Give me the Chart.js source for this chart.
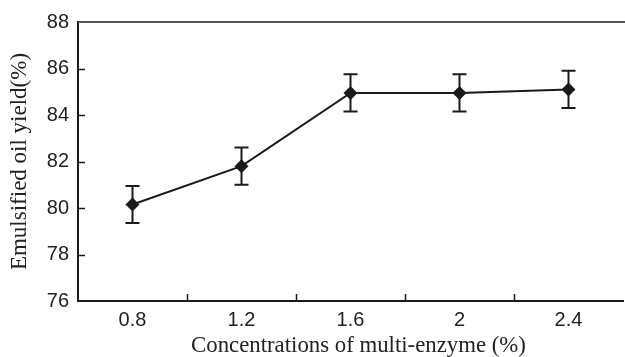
<!DOCTYPE html>
<html>
<head>
<meta charset="utf-8">
<script src="https://cdn.jsdelivr.net/npm/chart.js@4"></script>
<style>
  html, body { margin: 0; padding: 0; background: #fff; overflow: hidden; }
  #wrap { width: 625px; height: 357px; overflow: hidden; }
  canvas { display: block; }
</style>
</head>
<body>
<div id="wrap"><canvas id="c" width="630" height="357"></canvas></div>
<script>
const categories = ['0.8', '1.2', '1.6', '2', '2.4'];
const yieldValues = [80.15, 81.8, 84.95, 84.95, 85.1];
const errorValues = [0.8, 0.8, 0.8, 0.8, 0.8];
const yMin = 76, yMax = 88, yStep = 2;
const xTitle = 'Concentrations of multi-enzyme (%)';
const yTitle = 'Emulsified oil yield(%)';

const INK = '#1a1a1a';

const decorPlugin = {
  id: 'decor',
  beforeDatasetsDraw(chart) {
    const ctx = chart.ctx;
    const x = chart.scales.x, y = chart.scales.y;
    const area = chart.chartArea;
    ctx.save();
    // top frame line
    ctx.strokeStyle = '#555';
    ctx.lineWidth = 2;
    ctx.beginPath();
    ctx.moveTo(area.left, area.top);
    ctx.lineTo(area.right + 5, area.top);
    ctx.stroke();
    // inward y ticks
    ctx.strokeStyle = INK;
    ctx.lineWidth = 1.5;
    y.ticks.forEach(t => {
      if (t.value === yMin || t.value === yMax) return;
      const py = Math.round(y.getPixelForValue(t.value)) + 0.5;
      ctx.beginPath();
      ctx.moveTo(area.left, py);
      ctx.lineTo(area.left + 7, py);
      ctx.stroke();
    });
    // inward x ticks at category boundaries
    for (let i = 0; i < categories.length - 1; i++) {
      const px = Math.round((x.getPixelForValue(i) + x.getPixelForValue(i + 1)) / 2) + 0.5;
      ctx.beginPath();
      ctx.moveTo(px, area.bottom);
      ctx.lineTo(px, area.bottom - 7);
      ctx.stroke();
    }
    // error bars
    ctx.lineWidth = 2;
    ctx.strokeStyle = INK;
    yieldValues.forEach((v, i) => {
      const px = x.getPixelForValue(i);
      const top = y.getPixelForValue(v + errorValues[i]);
      const bot = y.getPixelForValue(v - errorValues[i]);
      const cap = 7;
      ctx.beginPath();
      ctx.moveTo(px, top); ctx.lineTo(px, bot);
      ctx.moveTo(px - cap, top); ctx.lineTo(px + cap, top);
      ctx.moveTo(px - cap, bot); ctx.lineTo(px + cap, bot);
      ctx.stroke();
    });
    // x axis title
    ctx.fillStyle = '#222';
    ctx.font = '22.8px "Liberation Serif"';
    ctx.textAlign = 'center';
    ctx.textBaseline = 'alphabetic';
    ctx.fillText(xTitle, (x.left + x.right) / 2 + 8, x.bottom - 5);
    ctx.restore();
  }
};

new Chart(document.getElementById('c'), {
  type: 'line',
  data: {
    labels: categories,
    datasets: [{
      data: yieldValues,
      borderColor: INK,
      borderWidth: 2,
      pointStyle: 'rectRot',
      pointRadius: 7,
      pointBackgroundColor: INK,
      pointBorderColor: INK,
      pointBorderWidth: 0,
      tension: 0,
      fill: false
    }]
  },
  options: {
    responsive: false,
    devicePixelRatio: 1,
    animation: false,
    events: [],
    layout: { padding: { top: 22, right: 1, left: 0, bottom: 0 } },
    plugins: { legend: { display: false }, tooltip: { enabled: false } },
    scales: {
      x: {
        offset: true,
        grid: { display: false, drawTicks: false },
        border: { display: true, color: INK, width: 2 },
        ticks: { color: '#222', font: { family: 'Liberation Sans', size: 20 }, padding: 7, maxRotation: 0 },
        title: { display: false },
        afterFit(s) { s.height = 56; }
      },
      y: {
        min: yMin, max: yMax,
        grid: { display: false, drawTicks: false },
        border: { display: true, color: INK, width: 2 },
        ticks: { stepSize: yStep, color: '#222', font: { family: 'Liberation Sans', size: 20 }, padding: 9 },
        title: { display: true, text: yTitle, color: '#222',
                 font: { family: 'Liberation Serif', size: 23, lineHeight: 1.2 }, padding: { top: 6, bottom: 0 } },
        afterFit(s) { s.width = 78; }
      }
    }
  },
  plugins: [decorPlugin]
});
</script>
</body>
</html>
